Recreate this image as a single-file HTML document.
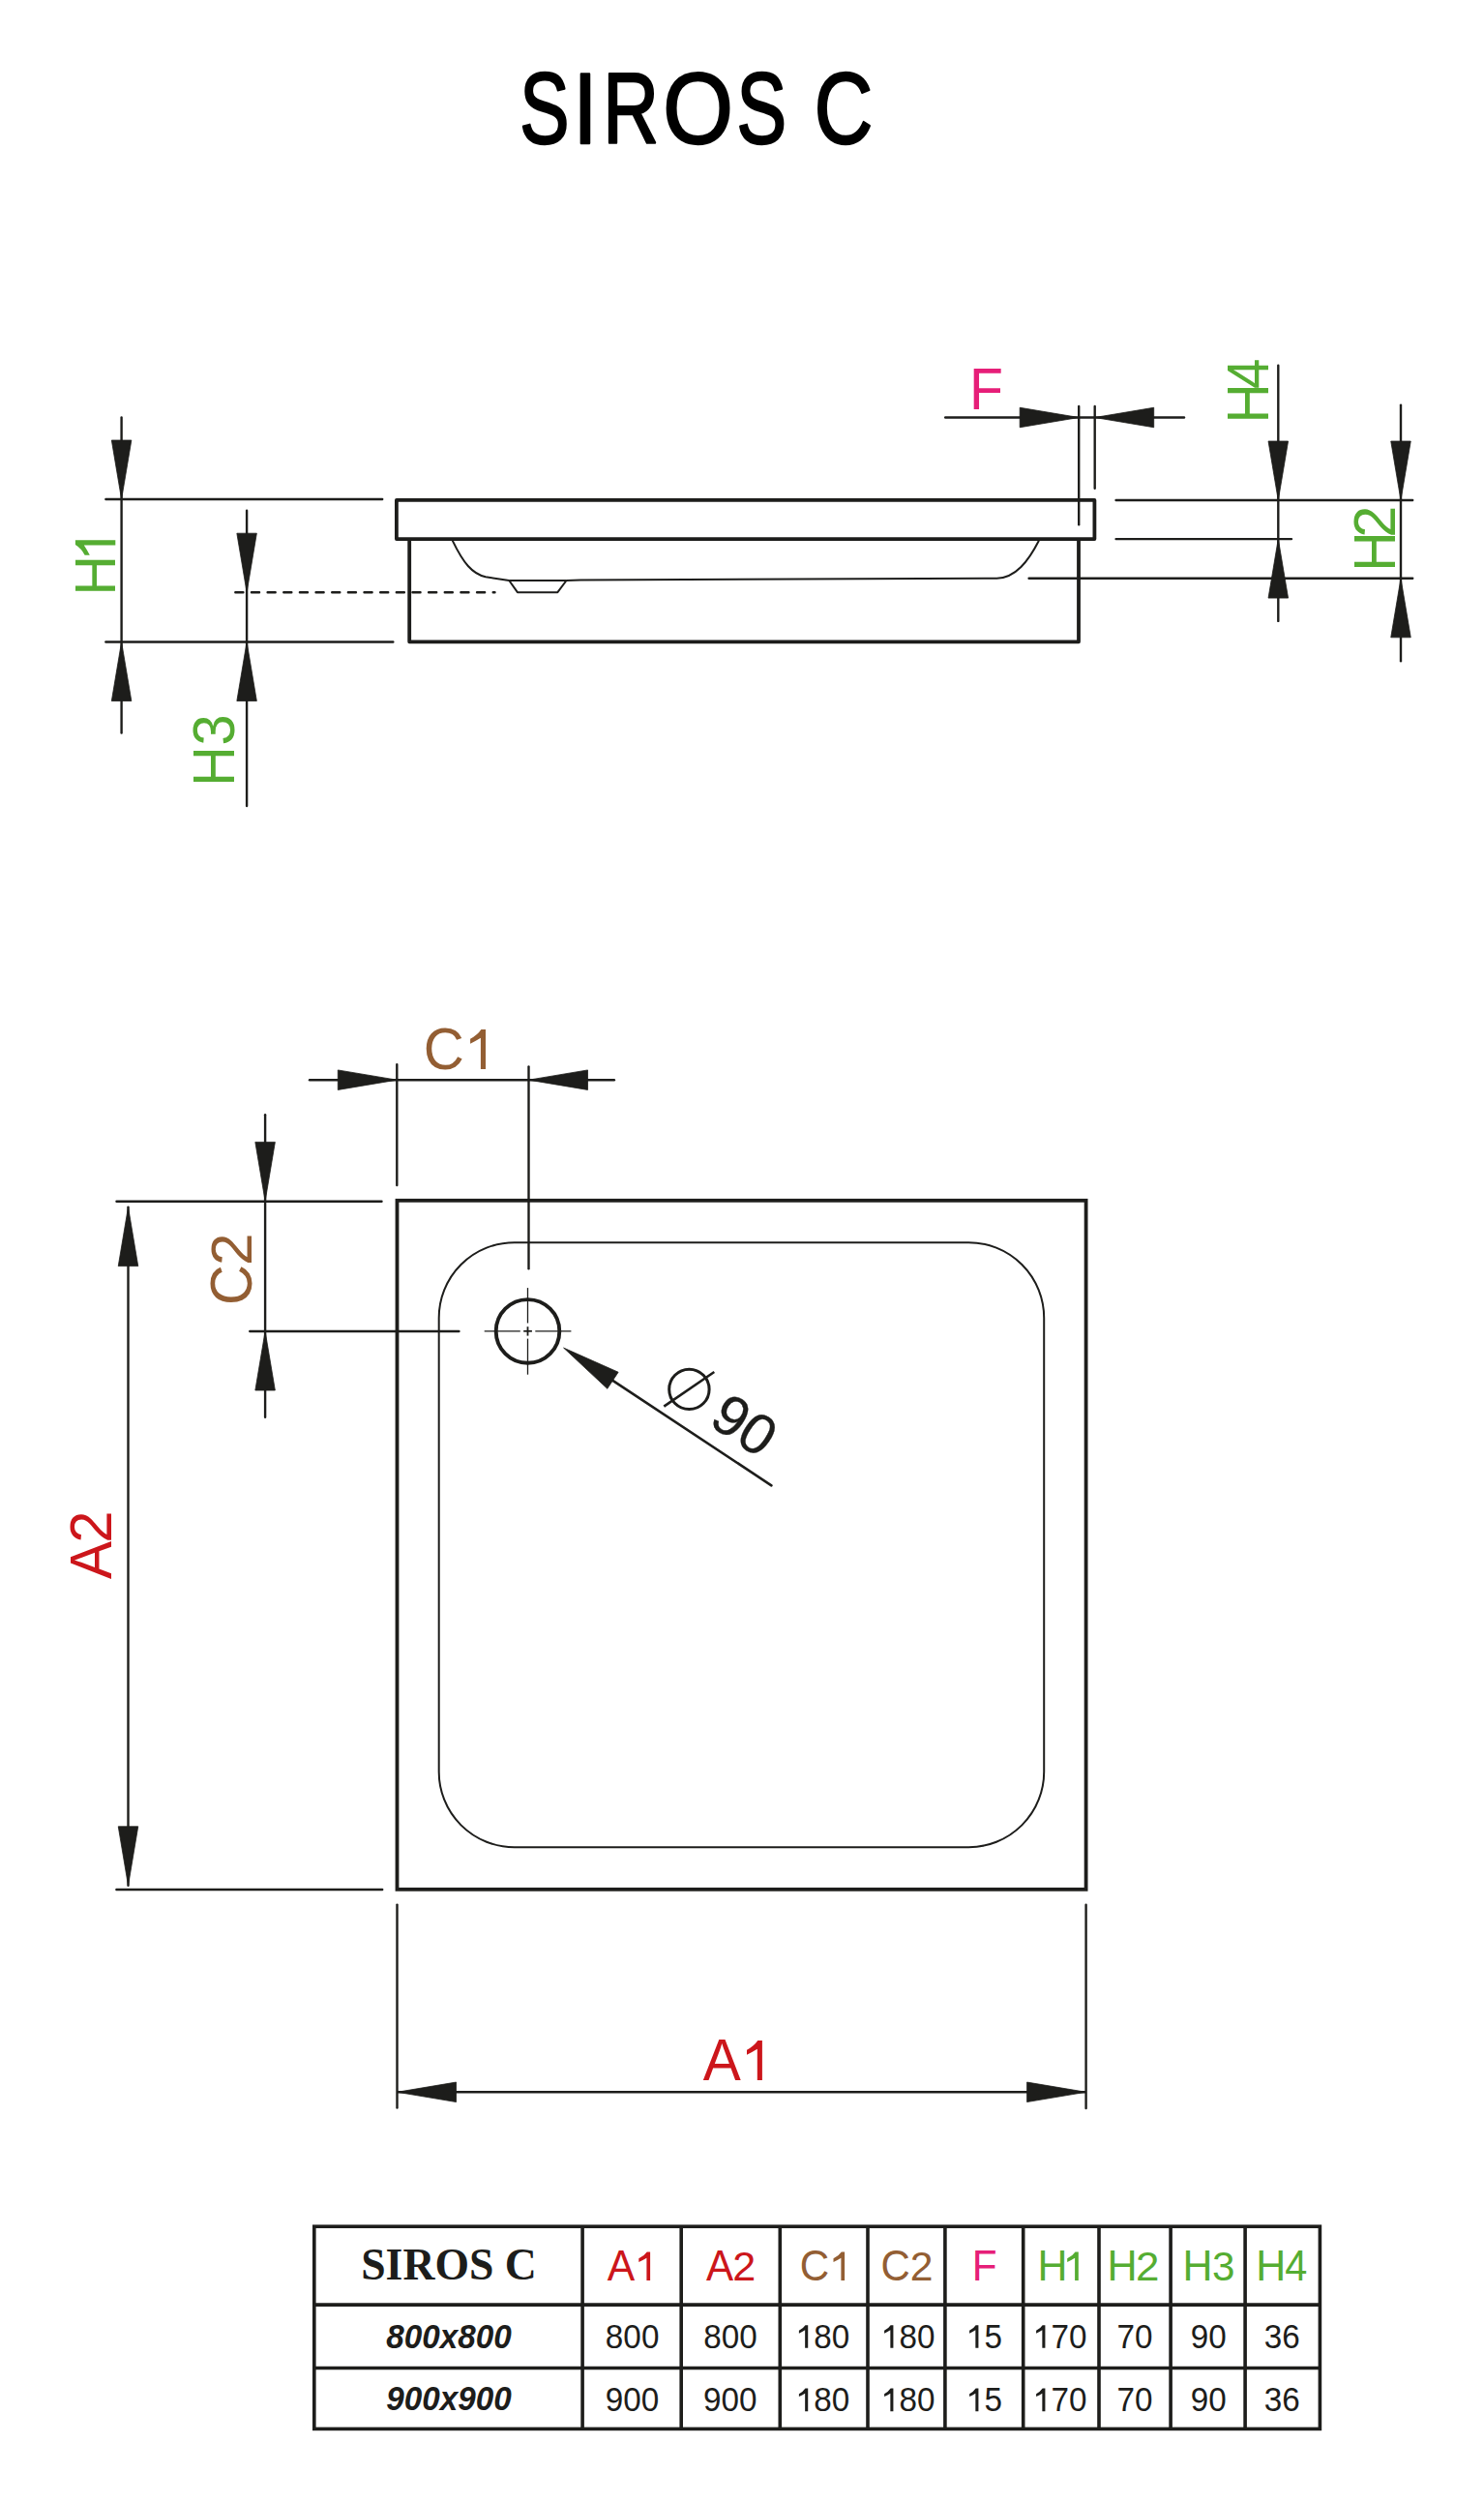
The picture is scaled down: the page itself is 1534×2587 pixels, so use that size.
<!DOCTYPE html><html><head><meta charset="utf-8"><style>html,body{margin:0;padding:0;background:#fff;width:1534px;height:2587px;overflow:hidden;position:relative}</style></head><body><svg width="1534" height="2587" viewBox="0 0 1534 2587" style="position:absolute;left:0;top:0">
<text transform="translate(537.27,147.56) scale(0.7358,1)" font-family="Liberation Sans" font-weight="normal" font-style="normal" font-size="104.24" fill="#000000" stroke="#000000" stroke-width="2.2" vector-effect="non-scaling-stroke" stroke-linejoin="round">S</text>
<text transform="translate(592.18,147.80) scale(0.8754,1)" font-family="Liberation Sans" font-weight="normal" font-style="normal" font-size="104.51" fill="#000000" stroke="#000000" stroke-width="2.2" vector-effect="non-scaling-stroke" stroke-linejoin="round">I</text>
<text transform="translate(623.15,147.80) scale(0.7649,1)" font-family="Liberation Sans" font-weight="normal" font-style="normal" font-size="104.51" fill="#000000" stroke="#000000" stroke-width="2.2" vector-effect="non-scaling-stroke" stroke-linejoin="round">R</text>
<text transform="translate(685.21,147.56) scale(0.8961,1)" font-family="Liberation Sans" font-weight="normal" font-style="normal" font-size="104.24" fill="#000000" stroke="#000000" stroke-width="2.2" vector-effect="non-scaling-stroke" stroke-linejoin="round">O</text>
<text transform="translate(761.55,147.56) scale(0.7408,1)" font-family="Liberation Sans" font-weight="normal" font-style="normal" font-size="104.24" fill="#000000" stroke="#000000" stroke-width="2.2" vector-effect="non-scaling-stroke" stroke-linejoin="round">S</text>
<text transform="translate(841.63,147.56) scale(0.8032,1)" font-family="Liberation Sans" font-weight="normal" font-style="normal" font-size="104.24" fill="#000000" stroke="#000000" stroke-width="2.2" vector-effect="non-scaling-stroke" stroke-linejoin="round">C</text>
<line x1="125.60" y1="431.50" x2="125.60" y2="757.60" stroke="#1d1d1b" stroke-width="2.4" stroke-linecap="round" />
<polygon points="125.60,516.00 115.35,455.00 135.85,455.00" fill="#1d1d1b" stroke="#1d1d1b" stroke-width="0.8" stroke-linejoin="round"/>
<polygon points="125.60,663.50 135.85,724.50 115.35,724.50" fill="#1d1d1b" stroke="#1d1d1b" stroke-width="0.8" stroke-linejoin="round"/>
<line x1="109.40" y1="516.00" x2="395.20" y2="516.00" stroke="#1d1d1b" stroke-width="2.4" stroke-linecap="round" />
<line x1="109.40" y1="663.50" x2="406.30" y2="663.50" stroke="#1d1d1b" stroke-width="2.4" stroke-linecap="round" />
<line x1="255.10" y1="527.80" x2="255.10" y2="833.00" stroke="#1d1d1b" stroke-width="2.4" stroke-linecap="round" />
<polygon points="255.10,612.20 244.85,551.20 265.35,551.20" fill="#1d1d1b" stroke="#1d1d1b" stroke-width="0.8" stroke-linejoin="round"/>
<polygon points="255.10,663.50 265.35,724.50 244.85,724.50" fill="#1d1d1b" stroke="#1d1d1b" stroke-width="0.8" stroke-linejoin="round"/>
<line x1="243.35" y1="612.2" x2="511.45" y2="612.2" stroke="#1d1d1b" stroke-width="2.5" stroke-linecap="round" stroke-dasharray="8.0 8.65"/>
<rect x="409.9" y="516.9" width="721.5" height="40.2" fill="none" stroke="#1d1d1b" stroke-width="3.8" stroke-linejoin="round"/>
<path d="M423.2,557 L423.2,663.3 L1115,663.3 L1115,557" fill="none" stroke="#1d1d1b" stroke-width="3.8" stroke-linejoin="round"/>
<path d="M467.7,558.6 C479,582 488,593 502,596.3 L526.3,600 L534.9,612.2 L576.4,612.2 L585.5,600 L600,599.5 L1030.4,597.8 C1050,597 1063,580 1073.9,558.7" fill="none" stroke="#1d1d1b" stroke-width="2" stroke-linejoin="round"/>
<line x1="526.30" y1="600.00" x2="585.50" y2="600.00" stroke="#1d1d1b" stroke-width="2.0" stroke-linecap="butt" />
<line x1="977.20" y1="431.50" x2="1224.00" y2="431.50" stroke="#1d1d1b" stroke-width="2.4" stroke-linecap="round" />
<polygon points="1115.20,431.50 1054.20,441.75 1054.20,421.25" fill="#1d1d1b" stroke="#1d1d1b" stroke-width="0.8" stroke-linejoin="round"/>
<polygon points="1131.70,431.50 1192.70,421.25 1192.70,441.75" fill="#1d1d1b" stroke="#1d1d1b" stroke-width="0.8" stroke-linejoin="round"/>
<line x1="1115.20" y1="420.00" x2="1115.20" y2="542.30" stroke="#1d1d1b" stroke-width="2.4" stroke-linecap="round" />
<line x1="1131.70" y1="420.00" x2="1131.70" y2="504.80" stroke="#1d1d1b" stroke-width="2.4" stroke-linecap="round" />
<line x1="1153.60" y1="517.00" x2="1460.20" y2="517.00" stroke="#1d1d1b" stroke-width="2.4" stroke-linecap="round" />
<line x1="1153.60" y1="557.10" x2="1335.00" y2="557.10" stroke="#1d1d1b" stroke-width="2.4" stroke-linecap="round" />
<line x1="1063.60" y1="597.80" x2="1460.20" y2="597.80" stroke="#1d1d1b" stroke-width="2.4" stroke-linecap="round" />
<line x1="1321.30" y1="377.70" x2="1321.30" y2="641.90" stroke="#1d1d1b" stroke-width="2.4" stroke-linecap="round" />
<polygon points="1321.30,517.00 1311.05,456.00 1331.55,456.00" fill="#1d1d1b" stroke="#1d1d1b" stroke-width="0.8" stroke-linejoin="round"/>
<polygon points="1321.30,557.10 1331.55,618.10 1311.05,618.10" fill="#1d1d1b" stroke="#1d1d1b" stroke-width="0.8" stroke-linejoin="round"/>
<line x1="1448.00" y1="418.60" x2="1448.00" y2="683.20" stroke="#1d1d1b" stroke-width="2.4" stroke-linecap="round" />
<polygon points="1448.00,517.00 1437.75,456.00 1458.25,456.00" fill="#1d1d1b" stroke="#1d1d1b" stroke-width="0.8" stroke-linejoin="round"/>
<polygon points="1448.00,597.80 1458.25,658.80 1437.75,658.80" fill="#1d1d1b" stroke="#1d1d1b" stroke-width="0.8" stroke-linejoin="round"/>
<text transform="translate(119.30,615.59) rotate(-90) scale(0.9513,1)" font-family="Liberation Sans" font-weight="normal" font-style="normal" font-size="60.17" fill="#55ad32">H</text>
<path transform="translate(119.30,573.70) rotate(-90)" d="M15.40,-41.40 L15.40,0 L10.23,0 L10.23,-32.50 Q5.62,-29.39 0,-26.50 L0,-31.67 Q6.93,-35.19 10.74,-41.40 Z" fill="#55ad32"/>
<text transform="translate(241.80,812.71) rotate(-90) scale(0.9474,1)" font-family="Liberation Sans" font-weight="normal" font-style="normal" font-size="60.61" fill="#55ad32">H</text>
<text transform="translate(242.19,770.59) rotate(-90) scale(0.9505,1)" font-family="Liberation Sans" font-weight="normal" font-style="normal" font-size="60.59" fill="#55ad32">3</text>
<text transform="translate(1002.10,422.80) scale(0.9425,1)" font-family="Liberation Sans" font-weight="normal" font-style="normal" font-size="60.76" fill="#e61e78">F</text>
<text transform="translate(1310.70,437.58) rotate(-90) scale(0.9438,1)" font-family="Liberation Sans" font-weight="normal" font-style="normal" font-size="60.47" fill="#55ad32">H</text>
<text transform="translate(1310.70,401.90) rotate(-90) scale(0.9352,1)" font-family="Liberation Sans" font-weight="normal" font-style="normal" font-size="60.47" fill="#55ad32">4</text>
<text transform="translate(1441.80,590.69) rotate(-90) scale(0.9445,1)" font-family="Liberation Sans" font-weight="normal" font-style="normal" font-size="60.61" fill="#55ad32">H</text>
<text transform="translate(1441.80,555.77) rotate(-90) scale(0.9853,1)" font-family="Liberation Sans" font-weight="normal" font-style="normal" font-size="60.32" fill="#55ad32">2</text>
<line x1="320.00" y1="1116.20" x2="634.90" y2="1116.20" stroke="#1d1d1b" stroke-width="2.4" stroke-linecap="round" />
<polygon points="410.30,1116.20 349.30,1126.45 349.30,1105.95" fill="#1d1d1b" stroke="#1d1d1b" stroke-width="0.8" stroke-linejoin="round"/>
<polygon points="546.50,1116.20 607.50,1105.95 607.50,1126.45" fill="#1d1d1b" stroke="#1d1d1b" stroke-width="0.8" stroke-linejoin="round"/>
<line x1="410.30" y1="1100.10" x2="410.30" y2="1225.10" stroke="#1d1d1b" stroke-width="2.4" stroke-linecap="round" />
<line x1="546.50" y1="1102.50" x2="546.50" y2="1311.20" stroke="#1d1d1b" stroke-width="2.4" stroke-linecap="round" />
<text transform="translate(437.83,1105.28) scale(0.9401,1)" font-family="Liberation Sans" font-weight="normal" font-style="normal" font-size="62.01" fill="#935e33">C</text>
<path transform="translate(486.10,1104.90)" d="M15.90,-40.80 L15.90,0 L10.80,0 L10.80,-32.03 Q5.94,-28.97 0,-26.11 L0,-31.21 Q7.15,-34.68 11.31,-40.80 Z" fill="#935e33"/>
<line x1="274.10" y1="1152.30" x2="274.10" y2="1464.70" stroke="#1d1d1b" stroke-width="2.4" stroke-linecap="round" />
<polygon points="274.10,1241.40 263.85,1180.40 284.35,1180.40" fill="#1d1d1b" stroke="#1d1d1b" stroke-width="0.8" stroke-linejoin="round"/>
<polygon points="274.10,1376.00 284.35,1437.00 263.85,1437.00" fill="#1d1d1b" stroke="#1d1d1b" stroke-width="0.8" stroke-linejoin="round"/>
<line x1="120.50" y1="1241.70" x2="394.50" y2="1241.70" stroke="#1d1d1b" stroke-width="2.4" stroke-linecap="round" />
<line x1="258.30" y1="1376.00" x2="474.40" y2="1376.00" stroke="#1d1d1b" stroke-width="2.4" stroke-linecap="round" />
<text transform="translate(260.09,1348.96) rotate(-90) scale(0.9572,1)" font-family="Liberation Sans" font-weight="normal" font-style="normal" font-size="60.73" fill="#935e33">C</text>
<text transform="translate(260.10,1308.02) rotate(-90) scale(1.0070,1)" font-family="Liberation Sans" font-weight="normal" font-style="normal" font-size="59.89" fill="#935e33">2</text>
<line x1="132.50" y1="1247.60" x2="132.50" y2="1948.80" stroke="#1d1d1b" stroke-width="2.4" stroke-linecap="round" />
<polygon points="132.50,1247.60 142.75,1308.60 122.25,1308.60" fill="#1d1d1b" stroke="#1d1d1b" stroke-width="0.8" stroke-linejoin="round"/>
<polygon points="132.50,1948.80 122.25,1887.80 142.75,1887.80" fill="#1d1d1b" stroke="#1d1d1b" stroke-width="0.8" stroke-linejoin="round"/>
<line x1="120.40" y1="1953.00" x2="395.20" y2="1953.00" stroke="#1d1d1b" stroke-width="2.4" stroke-linecap="round" />
<text transform="translate(115.10,1632.12) rotate(-90) scale(0.9632,1)" font-family="Liberation Sans" font-weight="normal" font-style="normal" font-size="60.76" fill="#cc161b">A</text>
<text transform="translate(115.10,1594.79) rotate(-90) scale(0.9950,1)" font-family="Liberation Sans" font-weight="normal" font-style="normal" font-size="60.17" fill="#cc161b">2</text>
<line x1="410.50" y1="1968.60" x2="410.50" y2="2178.60" stroke="#1d1d1b" stroke-width="2.4" stroke-linecap="round" />
<line x1="1122.60" y1="1968.80" x2="1122.60" y2="2179.00" stroke="#1d1d1b" stroke-width="2.4" stroke-linecap="round" />
<line x1="410.50" y1="2162.30" x2="1122.60" y2="2162.30" stroke="#1d1d1b" stroke-width="2.4" stroke-linecap="butt" />
<polygon points="410.50,2162.30 471.50,2152.05 471.50,2172.55" fill="#1d1d1b" stroke="#1d1d1b" stroke-width="0.8" stroke-linejoin="round"/>
<polygon points="1122.60,2162.30 1061.60,2172.55 1061.60,2152.05" fill="#1d1d1b" stroke="#1d1d1b" stroke-width="0.8" stroke-linejoin="round"/>
<text transform="translate(726.78,2149.90) scale(0.9632,1)" font-family="Liberation Sans" font-weight="normal" font-style="normal" font-size="60.76" fill="#cc161b">A</text>
<path transform="translate(772.00,2149.90)" d="M15.90,-40.80 L15.90,0 L10.80,0 L10.80,-32.03 Q5.94,-28.97 0,-26.11 L0,-31.21 Q7.15,-34.68 11.31,-40.80 Z" fill="#cc161b"/>
<rect x="410.5" y="1240.8" width="712.1" height="712.0" fill="none" stroke="#1d1d1b" stroke-width="3.8" stroke-linejoin="miter"/>
<rect x="453.7" y="1284.2" width="625.5" height="625.0" rx="78" ry="78" fill="none" stroke="#1d1d1b" stroke-width="2"/>
<circle cx="545.5" cy="1375.9" r="32.8" fill="none" stroke="#1d1d1b" stroke-width="3.9"/>
<line x1="545.50" y1="1331.10" x2="545.50" y2="1367.50" stroke="#1d1d1b" stroke-width="1.3" stroke-linecap="butt" />
<line x1="545.50" y1="1371.20" x2="545.50" y2="1380.60" stroke="#1d1d1b" stroke-width="1.8" stroke-linecap="butt" />
<line x1="545.50" y1="1383.60" x2="545.50" y2="1420.70" stroke="#1d1d1b" stroke-width="1.3" stroke-linecap="butt" />
<line x1="500.70" y1="1375.80" x2="537.80" y2="1375.80" stroke="#1d1d1b" stroke-width="1.3" stroke-linecap="butt" />
<line x1="541.20" y1="1375.80" x2="549.90" y2="1375.80" stroke="#1d1d1b" stroke-width="1.8" stroke-linecap="butt" />
<line x1="553.30" y1="1375.80" x2="590.40" y2="1375.80" stroke="#1d1d1b" stroke-width="1.3" stroke-linecap="butt" />
<line x1="630.00" y1="1424.70" x2="797.40" y2="1535.30" stroke="#1d1d1b" stroke-width="2.6" stroke-linecap="round" />
<polygon points="582.60,1393.10 639.12,1418.23 627.81,1435.32" fill="#1d1d1b" stroke="#1d1d1b" stroke-width="0.8" stroke-linejoin="round"/>
<circle cx="712.4" cy="1435.9" r="20.7" fill="none" stroke="#1d1d1b" stroke-width="3"/>
<line x1="686.30" y1="1453.60" x2="738.30" y2="1418.00" stroke="#1d1d1b" stroke-width="2.6" stroke-linecap="butt" />
<text transform="translate(731.0,1471.4) rotate(34.0)" font-family="Liberation Sans" font-size="59" fill="#1d1d1b" stroke="#1d1d1b" stroke-width="0.3">90</text>
<rect x="324.8" y="2301.2" width="1039.6" height="209.2" fill="none" stroke="#1d1d1b" stroke-width="3.6"/>
<line x1="324.80" y1="2382.10" x2="1364.40" y2="2382.10" stroke="#1d1d1b" stroke-width="3.6" stroke-linecap="butt" />
<line x1="324.80" y1="2447.50" x2="1364.40" y2="2447.50" stroke="#1d1d1b" stroke-width="3.6" stroke-linecap="butt" />
<line x1="602.10" y1="2301.20" x2="602.10" y2="2510.40" stroke="#1d1d1b" stroke-width="3.6" stroke-linecap="butt" />
<line x1="704.20" y1="2301.20" x2="704.20" y2="2510.40" stroke="#1d1d1b" stroke-width="3.6" stroke-linecap="butt" />
<line x1="806.30" y1="2301.20" x2="806.30" y2="2510.40" stroke="#1d1d1b" stroke-width="3.6" stroke-linecap="butt" />
<line x1="897.00" y1="2301.20" x2="897.00" y2="2510.40" stroke="#1d1d1b" stroke-width="3.6" stroke-linecap="butt" />
<line x1="976.90" y1="2301.20" x2="976.90" y2="2510.40" stroke="#1d1d1b" stroke-width="3.6" stroke-linecap="butt" />
<line x1="1057.70" y1="2301.20" x2="1057.70" y2="2510.40" stroke="#1d1d1b" stroke-width="3.6" stroke-linecap="butt" />
<line x1="1136.00" y1="2301.20" x2="1136.00" y2="2510.40" stroke="#1d1d1b" stroke-width="3.6" stroke-linecap="butt" />
<line x1="1210.10" y1="2301.20" x2="1210.10" y2="2510.40" stroke="#1d1d1b" stroke-width="3.6" stroke-linecap="butt" />
<line x1="1287.10" y1="2301.20" x2="1287.10" y2="2510.40" stroke="#1d1d1b" stroke-width="3.6" stroke-linecap="butt" />
<text transform="translate(373.18,2356.23) scale(0.9659,1)" font-family="Liberation Serif" font-weight="bold" font-style="normal" font-size="47.32" fill="#1d1d1b">SIROS C</text>
<text transform="translate(627.71,2357.00) scale(0.9757,1)" font-family="Liberation Sans" font-weight="normal" font-style="normal" font-size="43.75" fill="#cc161b">A</text>
<path transform="translate(660.30,2357.00)" d="M11.80,-29.60 L11.80,0 L8.10,0 L8.10,-23.24 Q4.46,-21.02 0,-18.94 L0,-22.64 Q5.31,-25.16 8.47,-29.60 Z" fill="#cc161b"/>
<text transform="translate(729.92,2357.00) scale(0.9653,1)" font-family="Liberation Sans" font-weight="normal" font-style="normal" font-size="43.75" fill="#cc161b">A</text>
<text transform="translate(757.34,2357.00) scale(1.0018,1)" font-family="Liberation Sans" font-weight="normal" font-style="normal" font-size="43.12" fill="#cc161b">2</text>
<text transform="translate(826.75,2356.96) scale(0.9665,1)" font-family="Liberation Sans" font-weight="normal" font-style="normal" font-size="43.64" fill="#935e33">C</text>
<path transform="translate(861.50,2357.00)" d="M11.60,-29.60 L11.60,0 L7.90,0 L7.90,-23.24 Q4.35,-21.02 0,-18.94 L0,-22.64 Q5.22,-25.16 8.27,-29.60 Z" fill="#935e33"/>
<text transform="translate(910.56,2356.96) scale(0.9628,1)" font-family="Liberation Sans" font-weight="normal" font-style="normal" font-size="43.64" fill="#935e33">C</text>
<text transform="translate(940.66,2357.00) scale(0.9917,1)" font-family="Liberation Sans" font-weight="normal" font-style="normal" font-size="43.12" fill="#935e33">2</text>
<text transform="translate(1004.83,2357.00) scale(0.9676,1)" font-family="Liberation Sans" font-weight="normal" font-style="normal" font-size="43.75" fill="#e61e78">F</text>
<text transform="translate(1072.58,2357.00) scale(0.9813,1)" font-family="Liberation Sans" font-weight="normal" font-style="normal" font-size="43.75" fill="#55ad32">H</text>
<path transform="translate(1103.20,2357.00)" d="M11.60,-29.60 L11.60,0 L7.90,0 L7.90,-23.24 Q4.34,-21.02 0,-18.94 L0,-22.64 Q5.22,-25.16 8.27,-29.60 Z" fill="#55ad32"/>
<text transform="translate(1144.46,2357.00) scale(0.9854,1)" font-family="Liberation Sans" font-weight="normal" font-style="normal" font-size="43.75" fill="#55ad32">H</text>
<text transform="translate(1174.11,2357.00) scale(1.0171,1)" font-family="Liberation Sans" font-weight="normal" font-style="normal" font-size="43.12" fill="#55ad32">2</text>
<text transform="translate(1222.58,2357.00) scale(0.9813,1)" font-family="Liberation Sans" font-weight="normal" font-style="normal" font-size="43.75" fill="#55ad32">H</text>
<text transform="translate(1253.00,2356.57) scale(0.9925,1)" font-family="Liberation Sans" font-weight="normal" font-style="normal" font-size="42.51" fill="#55ad32">3</text>
<text transform="translate(1298.28,2357.00) scale(0.9813,1)" font-family="Liberation Sans" font-weight="normal" font-style="normal" font-size="43.75" fill="#55ad32">H</text>
<text transform="translate(1328.25,2357.00) scale(0.9478,1)" font-family="Liberation Sans" font-weight="normal" font-style="normal" font-size="43.75" fill="#55ad32">4</text>
<text transform="translate(399.17,2426.85) scale(0.9618,1)" font-family="Liberation Sans" font-weight="bold" font-style="italic" font-size="34.60" fill="#1d1d1b">800x800</text>
<text transform="translate(399.20,2490.75) scale(0.9537,1)" font-family="Liberation Sans" font-weight="bold" font-style="italic" font-size="34.89" fill="#1d1d1b">900x900</text>
<text transform="translate(625.87,2426.80) scale(0.9700,1)" font-family="Liberation Sans" font-size="34.30" fill="#1d1d1b">8</text>
<text transform="translate(644.37,2426.80) scale(0.9700,1)" font-family="Liberation Sans" font-size="34.30" fill="#1d1d1b">0</text>
<text transform="translate(662.88,2426.80) scale(0.9700,1)" font-family="Liberation Sans" font-size="34.30" fill="#1d1d1b">0</text>
<text transform="translate(727.17,2426.80) scale(0.9700,1)" font-family="Liberation Sans" font-size="34.30" fill="#1d1d1b">8</text>
<text transform="translate(745.67,2426.80) scale(0.9700,1)" font-family="Liberation Sans" font-size="34.30" fill="#1d1d1b">0</text>
<text transform="translate(764.18,2426.80) scale(0.9700,1)" font-family="Liberation Sans" font-size="34.30" fill="#1d1d1b">0</text>
<path transform="translate(825.90,2426.80)" d="M9.32,-23.60 L9.32,0 L6.25,0 L6.25,-18.52 Q3.44,-16.75 0,-15.10 L0,-18.05 Q4.19,-20.06 6.56,-23.60 Z" fill="#1d1d1b"/>
<text transform="translate(841.24,2426.80) scale(0.9700,1)" font-family="Liberation Sans" font-size="34.30" fill="#1d1d1b">8</text>
<text transform="translate(859.75,2426.80) scale(0.9700,1)" font-family="Liberation Sans" font-size="34.30" fill="#1d1d1b">0</text>
<path transform="translate(914.10,2426.80)" d="M9.32,-23.60 L9.32,0 L6.25,0 L6.25,-18.52 Q3.44,-16.75 0,-15.10 L0,-18.05 Q4.19,-20.06 6.56,-23.60 Z" fill="#1d1d1b"/>
<text transform="translate(929.44,2426.80) scale(0.9700,1)" font-family="Liberation Sans" font-size="34.30" fill="#1d1d1b">8</text>
<text transform="translate(947.95,2426.80) scale(0.9700,1)" font-family="Liberation Sans" font-size="34.30" fill="#1d1d1b">0</text>
<path transform="translate(1002.10,2426.80)" d="M9.32,-23.60 L9.32,0 L6.25,0 L6.25,-18.52 Q3.44,-16.75 0,-15.10 L0,-18.05 Q4.19,-20.06 6.56,-23.60 Z" fill="#1d1d1b"/>
<text transform="translate(1017.44,2426.80) scale(0.9700,1)" font-family="Liberation Sans" font-size="34.30" fill="#1d1d1b">5</text>
<path transform="translate(1071.10,2426.80)" d="M9.32,-23.60 L9.32,0 L6.25,0 L6.25,-18.52 Q3.44,-16.75 0,-15.10 L0,-18.05 Q4.19,-20.06 6.56,-23.60 Z" fill="#1d1d1b"/>
<text transform="translate(1086.44,2426.80) scale(0.9700,1)" font-family="Liberation Sans" font-size="34.30" fill="#1d1d1b">7</text>
<text transform="translate(1104.95,2426.80) scale(0.9700,1)" font-family="Liberation Sans" font-size="34.30" fill="#1d1d1b">0</text>
<text transform="translate(1154.60,2426.80) scale(0.9700,1)" font-family="Liberation Sans" font-size="34.30" fill="#1d1d1b">7</text>
<text transform="translate(1173.11,2426.80) scale(0.9700,1)" font-family="Liberation Sans" font-size="34.30" fill="#1d1d1b">0</text>
<text transform="translate(1230.74,2426.80) scale(0.9700,1)" font-family="Liberation Sans" font-size="34.30" fill="#1d1d1b">9</text>
<text transform="translate(1249.24,2426.80) scale(0.9700,1)" font-family="Liberation Sans" font-size="34.30" fill="#1d1d1b">0</text>
<text transform="translate(1306.74,2426.80) scale(0.9700,1)" font-family="Liberation Sans" font-size="34.30" fill="#1d1d1b">3</text>
<text transform="translate(1325.24,2426.80) scale(0.9700,1)" font-family="Liberation Sans" font-size="34.30" fill="#1d1d1b">6</text>
<text transform="translate(625.74,2492.20) scale(0.9700,1)" font-family="Liberation Sans" font-size="34.30" fill="#1d1d1b">9</text>
<text transform="translate(644.24,2492.20) scale(0.9700,1)" font-family="Liberation Sans" font-size="34.30" fill="#1d1d1b">0</text>
<text transform="translate(662.75,2492.20) scale(0.9700,1)" font-family="Liberation Sans" font-size="34.30" fill="#1d1d1b">0</text>
<text transform="translate(727.04,2492.20) scale(0.9700,1)" font-family="Liberation Sans" font-size="34.30" fill="#1d1d1b">9</text>
<text transform="translate(745.54,2492.20) scale(0.9700,1)" font-family="Liberation Sans" font-size="34.30" fill="#1d1d1b">0</text>
<text transform="translate(764.05,2492.20) scale(0.9700,1)" font-family="Liberation Sans" font-size="34.30" fill="#1d1d1b">0</text>
<path transform="translate(825.90,2492.20)" d="M9.32,-23.60 L9.32,0 L6.25,0 L6.25,-18.52 Q3.44,-16.75 0,-15.10 L0,-18.05 Q4.19,-20.06 6.56,-23.60 Z" fill="#1d1d1b"/>
<text transform="translate(841.24,2492.20) scale(0.9700,1)" font-family="Liberation Sans" font-size="34.30" fill="#1d1d1b">8</text>
<text transform="translate(859.75,2492.20) scale(0.9700,1)" font-family="Liberation Sans" font-size="34.30" fill="#1d1d1b">0</text>
<path transform="translate(914.10,2492.20)" d="M9.32,-23.60 L9.32,0 L6.25,0 L6.25,-18.52 Q3.44,-16.75 0,-15.10 L0,-18.05 Q4.19,-20.06 6.56,-23.60 Z" fill="#1d1d1b"/>
<text transform="translate(929.44,2492.20) scale(0.9700,1)" font-family="Liberation Sans" font-size="34.30" fill="#1d1d1b">8</text>
<text transform="translate(947.95,2492.20) scale(0.9700,1)" font-family="Liberation Sans" font-size="34.30" fill="#1d1d1b">0</text>
<path transform="translate(1002.10,2492.20)" d="M9.32,-23.60 L9.32,0 L6.25,0 L6.25,-18.52 Q3.44,-16.75 0,-15.10 L0,-18.05 Q4.19,-20.06 6.56,-23.60 Z" fill="#1d1d1b"/>
<text transform="translate(1017.44,2492.20) scale(0.9700,1)" font-family="Liberation Sans" font-size="34.30" fill="#1d1d1b">5</text>
<path transform="translate(1071.10,2492.20)" d="M9.32,-23.60 L9.32,0 L6.25,0 L6.25,-18.52 Q3.44,-16.75 0,-15.10 L0,-18.05 Q4.19,-20.06 6.56,-23.60 Z" fill="#1d1d1b"/>
<text transform="translate(1086.44,2492.20) scale(0.9700,1)" font-family="Liberation Sans" font-size="34.30" fill="#1d1d1b">7</text>
<text transform="translate(1104.95,2492.20) scale(0.9700,1)" font-family="Liberation Sans" font-size="34.30" fill="#1d1d1b">0</text>
<text transform="translate(1154.60,2492.20) scale(0.9700,1)" font-family="Liberation Sans" font-size="34.30" fill="#1d1d1b">7</text>
<text transform="translate(1173.11,2492.20) scale(0.9700,1)" font-family="Liberation Sans" font-size="34.30" fill="#1d1d1b">0</text>
<text transform="translate(1230.74,2492.20) scale(0.9700,1)" font-family="Liberation Sans" font-size="34.30" fill="#1d1d1b">9</text>
<text transform="translate(1249.24,2492.20) scale(0.9700,1)" font-family="Liberation Sans" font-size="34.30" fill="#1d1d1b">0</text>
<text transform="translate(1306.74,2492.20) scale(0.9700,1)" font-family="Liberation Sans" font-size="34.30" fill="#1d1d1b">3</text>
<text transform="translate(1325.24,2492.20) scale(0.9700,1)" font-family="Liberation Sans" font-size="34.30" fill="#1d1d1b">6</text>
</svg></body></html>
